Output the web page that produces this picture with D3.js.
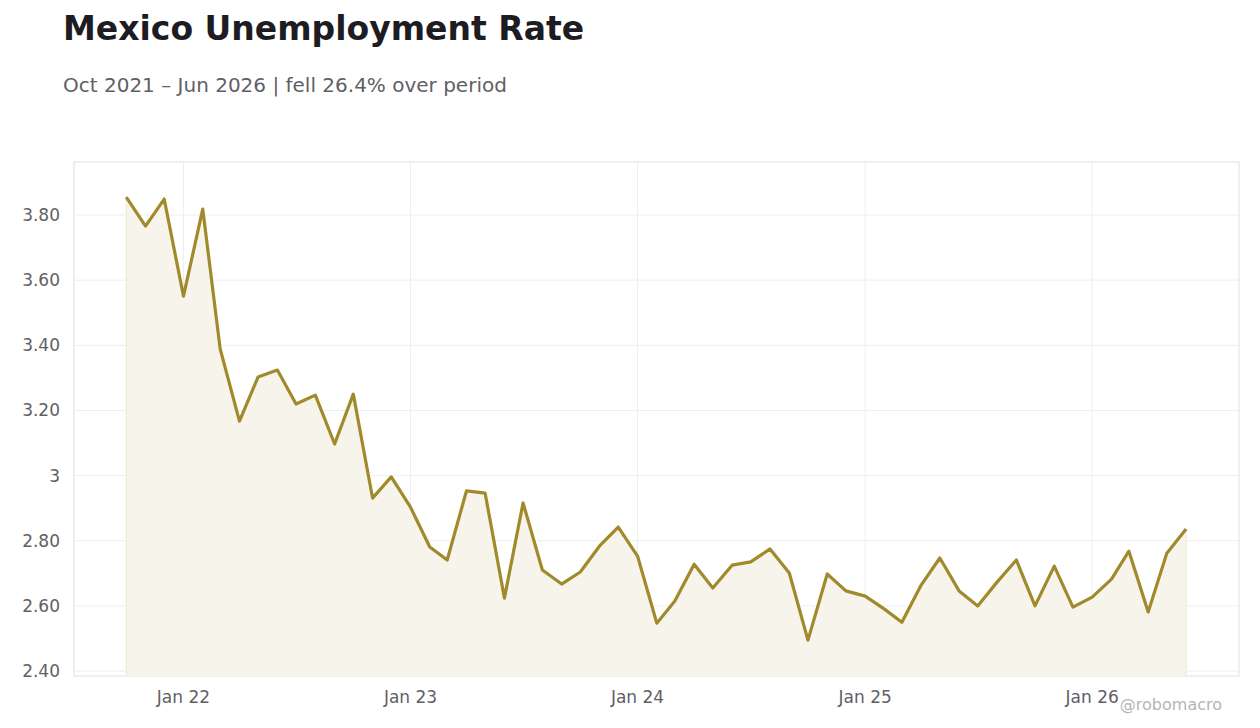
<!DOCTYPE html>
<html><head><meta charset="utf-8">
<script src="https://cdn.jsdelivr.net/npm/d3@7"></script>
<style>body{margin:0;background:#fff;font-family:"DejaVu Sans",sans-serif;}</style>
</head><body><svg id="c" width="1260" height="728"></svg>
<script>
const startMonth = "2021-10";
const values = [3.855,3.766,3.849,3.551,3.818,3.389,3.167,3.303,3.324,3.220,3.247,3.097,3.250,2.931,2.996,
2.903,2.781,2.741,2.953,2.946,2.624,2.916,2.710,2.667,2.704,2.784,2.842,
2.753,2.547,2.615,2.728,2.655,2.725,2.735,2.775,2.701,2.495,2.698,2.646,
2.630,2.590,2.550,2.664,2.747,2.646,2.600,2.673,2.741,2.600,2.722,2.596,
2.627,2.682,2.768,2.581,2.762,2.836];
const yTicks = [2.4,2.6,2.8,3.0,3.2,3.4,3.6,3.8];
const xTicks = ["2022-01","2023-01","2024-01","2025-01","2026-01"];
const data = values.map((v,i)=>({d:new Date(2021,9+i,1),v}));

const svg=d3.select("#c");
const L=74,R=1239,T=162,B=676;
const x=d3.scaleTime().domain([new Date(2021,9,1-84),new Date(2026,5,1+85)]).range([L,R]);
const y=d3.scaleLinear().domain([2.3848,3.9627]).range([B,T]);

svg.append("text").attr("x",63).attr("y",40).text("Mexico Unemployment Rate")
 .attr("font-size",33).attr("font-weight","bold").attr("fill","#1c1c22");
svg.append("text").attr("x",63).attr("y",92).text("Oct 2021 – Jun 2026 | fell 26.4% over period")
 .attr("font-size",20).attr("fill","#5f6066");

const g=svg.append("g");
yTicks.forEach(t=>g.append("line").attr("x1",L).attr("x2",R).attr("y1",y(t)).attr("y2",y(t)).attr("stroke","#eeeeee"));
xTicks.forEach(s=>{const d=d3.timeParse("%Y-%m")(s);
 g.append("line").attr("x1",x(d)).attr("x2",x(d)).attr("y1",T).attr("y2",B).attr("stroke","#eeeeee");
 g.append("text").attr("x",x(d)).attr("y",703).attr("text-anchor","middle").attr("font-size",17).attr("fill","#5f6066").text(d3.timeFormat("Jan %y")(d));
});
yTicks.forEach(t=>g.append("text").attr("x",60).attr("y",y(t)+6).attr("text-anchor","end").attr("font-size",17).attr("fill","#5f6066").text(t===3?"3":t.toFixed(2)));
g.append("rect").attr("x",L).attr("y",T).attr("width",R-L).attr("height",B-T).attr("fill","none").attr("stroke","#e0e0e0");

g.append("path").datum(data).attr("fill","#f7f4ec")
 .attr("d",d3.area().x(d=>x(d.d)).y0(B).y1(d=>y(d.v)));
g.append("line").attr("x1",x(data[0].d)).attr("x2",x(data[0].d)).attr("y1",y(data[0].v)).attr("y2",B).attr("stroke","#ece6d4");
g.append("line").attr("x1",x(data[56].d)).attr("x2",x(data[56].d)).attr("y1",y(data[56].v)).attr("y2",B).attr("stroke","#ece6d4");
g.append("path").datum(data).attr("fill","none").attr("stroke","#a08a2c").attr("stroke-width",3.2).attr("stroke-linejoin","round")
 .attr("d",d3.line().x(d=>x(d.d)).y(d=>y(d.v)));
svg.append("text").attr("x",1222).attr("y",710).attr("text-anchor","end").attr("font-size",16).attr("fill","#b5b5b5").text("@robomacro");
</script></body></html>
